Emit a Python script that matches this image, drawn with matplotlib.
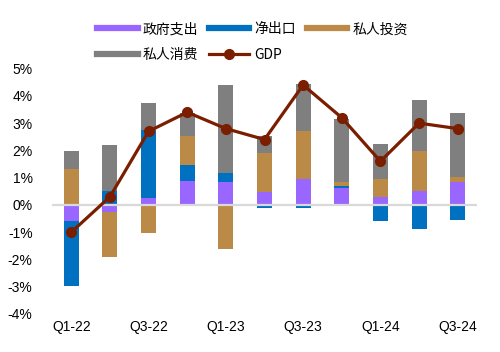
import matplotlib
matplotlib.use('Agg')
import matplotlib.pyplot as plt
import numpy as np

# quarterly contributions to GDP growth (%)
quarters = ['Q1-22', 'Q2-22', 'Q3-22', 'Q4-22', 'Q1-23', 'Q2-23',
            'Q3-23', 'Q4-23', 'Q1-24', 'Q2-24', 'Q3-24']
gov_spending = [-0.60, -0.25, 0.26, 0.88, 0.84, 0.47, 0.95, 0.62, 0.30, 0.51, 0.84]
net_exports = [-2.38, 0.51, 2.50, 0.58, 0.33, -0.10, -0.10, 0.09, -0.58, -0.88, -0.55]
private_invest = [1.32, -1.66, -1.03, 1.07, -1.61, 1.43, 1.76, 0.13, 0.65, 1.46, 0.19]
private_consume = [0.66, 1.68, 0.99, 0.83, 3.22, 0.62, 1.72, 2.31, 1.28, 1.87, 2.34]
gdp = [-1.0, 0.3, 2.7, 3.4, 2.8, 2.4, 4.4, 3.2, 1.6, 3.0, 2.8]

series = [
    ('政府支出', gov_spending, '#9966FF'),
    ('净出口', net_exports, '#0070C0'),
    ('私人投资', private_invest, '#BC8A47'),
    ('私人消费', private_consume, '#7F7F7F'),
]
gdp_color = '#7B1E00'

fig = plt.figure(figsize=(5, 3.52), dpi=100)
ax = fig.add_axes([0.104, 0.108, 0.85, 0.697])

x = np.arange(len(quarters))
pos_base = np.zeros(len(x))
neg_base = np.zeros(len(x))
handles = []
for name, vals, color in series:
    vals = np.array(vals)
    bottom = np.where(vals >= 0, pos_base, neg_base)
    ax.bar(x, vals, width=0.39, bottom=bottom, color=color, zorder=2)
    pos_base += np.where(vals >= 0, vals, 0)
    neg_base += np.where(vals < 0, vals, 0)
    h, = ax.plot([], [], color=color, lw=4.5, label=name)
    handles.append(h)

ax.axhline(0, color='#D9D9D9', lw=1.6, zorder=3)
gl, = ax.plot(x, gdp, color=gdp_color, lw=2.3, marker='o', ms=7, zorder=4, label='GDP')
handles.append(gl)

ax.set_xlim(-0.5, len(x) - 0.5)
ax.set_ylim(-4, 5)
ax.set_yticks(np.arange(-4, 6, 1))
ax.set_yticklabels([f'{v}%' for v in range(-4, 6)], family='Liberation Sans', fontsize=10)
ax.set_xticks(x[::2])
ax.set_xticklabels(quarters[::2], family='Liberation Sans', fontsize=10)
ax.tick_params(axis='y', length=0, pad=14)
ax.tick_params(axis='x', length=0, pad=4)
for s in ax.spines.values():
    s.set_visible(False)

# legend fills column-wise, so reorder to get row-wise layout
order = [0, 3, 1, 4, 2]
fig.legend(handles=[handles[i] for i in order], loc='center', bbox_to_anchor=(0.505, 0.880), ncol=3,
           frameon=False, prop={'family': ['Noto Sans CJK SC', 'DejaVu Sans'], 'size': 10},
           handlelength=2.9, handletextpad=0.35, columnspacing=0.8, labelspacing=0.85)

fig.savefig('out.png', dpi=100)
